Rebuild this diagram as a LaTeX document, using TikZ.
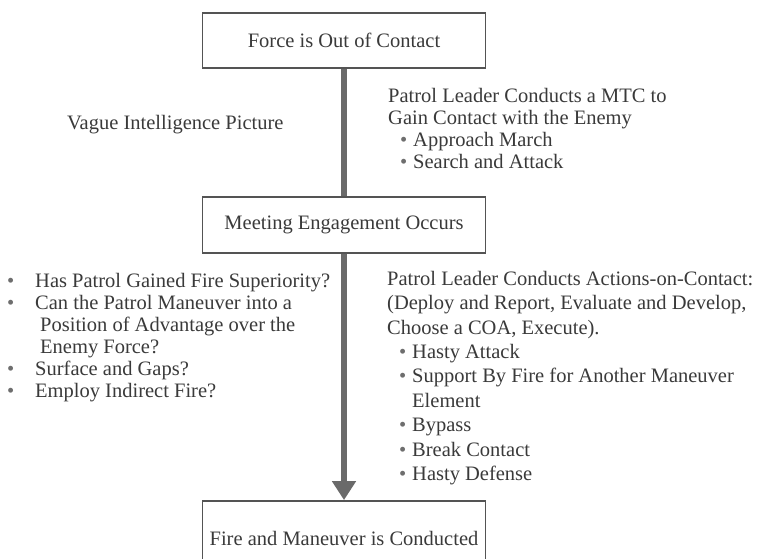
\documentclass[tikz,border=0pt]{standalone}
\usepackage{fontspec}
\setmainfont{Liberation Serif}
\usetikzlibrary{arrows.meta}
\definecolor{ink}{HTML}{3A3A3A}
\definecolor{frame}{HTML}{545454}
\definecolor{shaft}{HTML}{6A6A6A}
\definecolor{dotc}{HTML}{6E6E6E}
\newcommand\bodyfont{\fontsize{20.5}{24}\selectfont}
\newcommand\bul[1]{\makebox[#1][l]{\textcolor{dotc}{\textbullet}}}
\begin{document}
\begin{tikzpicture}[x=1pt,y=-1pt,
  stage/.style={draw=frame,line width=1.8pt,fill=white,rectangle,inner sep=0pt,
    minimum width=283pt,text=ink,font=\bodyfont},
  txt/.style={anchor=mid west,inner sep=0pt,text=ink,font=\bodyfont},
  conn/.style={draw=shaft,line width=6pt}]
\clip (0,0) rectangle (759,558);
\fill[white] (0,0) rectangle (759,558);

% stages of the engagement
\node[stage,minimum height=55pt] (out)  at (344,40.5) {Force is Out of Contact};
\node[stage,minimum height=56pt] (meet) at (344,225)  {Meeting Engagement Occurs};
\node[stage,minimum height=74pt] (fire) at (344,538)  {Fire and Maneuver is Conducted};

% connectors between stages
\draw[conn] (out.south) -- (meet.north);
\draw[conn,-{Triangle[width=23pt,length=19pt]}] (meet.south) -- (fire.north);

% before contact
\node[txt] (vague) at (67,127) {Vague Intelligence Picture};
\node[txt] (mtc1) at (388,100) {Patrol Leader Conducts a MTC to};
\node[txt] (mtc2) at (388,122) {Gain Contact with the Enemy};
\node[txt] (mtc3) at (400,144) {\bul{13pt}Approach March};
\node[txt] (mtc4) at (400,166) {\bul{13pt}Search and Attack};

% questions after contact
\node[txt] (q1) at (7,285)  {\bul{28pt}Has Patrol Gained Fire Superiority?};
\node[txt] (q2) at (7,307)  {\bul{28pt}Can the Patrol Maneuver into a};
\node[txt] (q3) at (40,329) {Position of Advantage over the};
\node[txt] (q4) at (40,351) {Enemy Force?};
\node[txt] (q5) at (7,373)  {\bul{28pt}Surface and Gaps?};
\node[txt] (q6) at (7,395)  {\bul{28pt}Employ Indirect Fire?};

% actions on contact
\node[txt] (a1) at (387,283)   {Patrol Leader Conducts Actions-on-Contact:};
\node[txt] (a2) at (387,307.4) {(Deploy and Report, Evaluate and Develop,};
\node[txt] (a3) at (387,331.8) {Choose a COA, Execute).};
\node[txt] (a4) at (399,356.2) {\bul{13pt}Hasty Attack};
\node[txt] (a5) at (399,380.6) {\bul{13pt}Support By Fire for Another Maneuver};
\node[txt] (a6) at (412,405)   {Element};
\node[txt] (a7) at (399,429.4) {\bul{13pt}Bypass};
\node[txt] (a8) at (399,453.8) {\bul{13pt}Break Contact};
\node[txt] (a9) at (399,478.2) {\bul{13pt}Hasty Defense};
\end{tikzpicture}
\end{document}
